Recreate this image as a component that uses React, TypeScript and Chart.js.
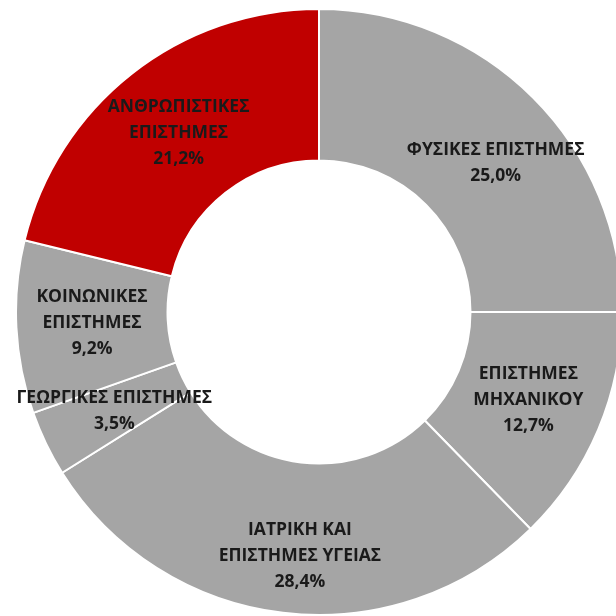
import React, { useEffect, useRef } from "react";
import { Chart, registerables } from "chart.js";

Chart.register(...registerables);

const categories: string[][] = [
  ["ΦΥΣΙΚΕΣ ΕΠΙΣΤΗΜΕΣ"],
  ["ΕΠΙΣΤΗΜΕΣ", "ΜΗΧΑΝΙΚΟΥ"],
  ["ΙΑΤΡΙΚΗ ΚΑΙ", "ΕΠΙΣΤΗΜΕΣ ΥΓΕΙΑΣ"],
  ["ΓΕΩΡΓΙΚΕΣ ΕΠΙΣΤΗΜΕΣ"],
  ["ΚΟΙΝΩΝΙΚΕΣ", "ΕΠΙΣΤΗΜΕΣ"],
  ["ΑΝΘΡΩΠΙΣΤΙΚΕΣ", "ΕΠΙΣΤΗΜΕΣ"],
];
const values: number[] = [25.0, 12.7, 28.4, 3.5, 9.2, 21.2];
const colors: string[] = ["#A5A5A5", "#A5A5A5", "#A5A5A5", "#A5A5A5", "#A5A5A5", "#C00000"];

// label nudges (px) relative to the arc's mid point
const labelNudge: [number, number][] = [
  [16, 12],
  [0, 0],
  [8, 18],
  [0, 0],
  [0, 0],
  [0, 0],
];

const FONT = "bold 17.5px 'Open Sans', 'DejaVu Sans', sans-serif";
const LINE_H = 26;

const labelPlugin = {
  id: "arcLabels",
  afterDatasetsDraw(chart: any) {
    const ctx = chart.ctx as CanvasRenderingContext2D;
    const meta = chart.getDatasetMeta(0);
    ctx.save();
    ctx.font = FONT;
    ctx.fillStyle = "#1A1A1A";
    ctx.textAlign = "center";
    ctx.textBaseline = "middle";
    meta.data.forEach((arc: any, i: number) => {
      const p = arc.getProps(["x", "y", "startAngle", "endAngle", "innerRadius", "outerRadius"], true);
      const mid = (p.startAngle + p.endAngle) / 2;
      const r = (p.innerRadius + p.outerRadius) / 2;
      const cx = p.x + Math.cos(mid) * r + labelNudge[i][0];
      const cy = p.y + Math.sin(mid) * r + labelNudge[i][1];
      const lines = [...categories[i], values[i].toFixed(1).replace(".", ",") + "%"];
      const top = cy - ((lines.length - 1) * LINE_H) / 2;
      lines.forEach((l, j) => ctx.fillText(l, cx, top + j * LINE_H));
    });
    ctx.restore();
  },
};

export default function App() {
  const ref = useRef<HTMLCanvasElement | null>(null);
  useEffect(() => {
    if (!ref.current) return;
    const chart = new Chart(ref.current, {
      type: "doughnut",
      data: {
        labels: categories.map((c) => c.join(" ")),
        datasets: [
          {
            data: values,
            backgroundColor: colors,
            borderColor: "#FFFFFF",
            borderWidth: 2,
          },
        ],
      },
      options: {
        responsive: false,
        animation: false,
        cutout: "50%",
        layout: { padding: 0 },
        plugins: {
          legend: { display: false },
          tooltip: { enabled: false },
        },
      },
      plugins: [labelPlugin],
    });
    return () => chart.destroy();
  }, []);
  return (
    <div
      style={{
        position: "fixed",
        left: 0,
        top: 0,
        width: 616,
        height: 616,
        overflow: "hidden",
        background: "#FFFFFF",
      }}
    >
      <canvas
        ref={ref}
        width={608}
        height={608}
        style={{ position: "absolute", left: 15, top: 8, width: 608, height: 608 }}
      />
    </div>
  );
}
